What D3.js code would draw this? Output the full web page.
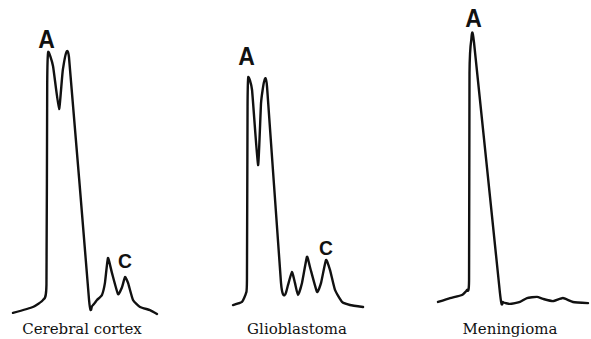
<!DOCTYPE html>
<html>
<head>
<meta charset="utf-8">
<script src="https://cdn.jsdelivr.net/npm/d3@7"></script>
<style>
  html, body { margin: 0; padding: 0; background: #fff; }
  svg { display: block; }
</style>
</head>
<body>
<div id="chart"></div>
<script>
// densitometer traces, position (arbitrary units) vs intensity (0-100)
const panels = ['Cerebral cortex', 'Glioblastoma', 'Meningioma'];

const cortexX = [0, 13.3, 20, 22.3, 22.8, 23.5, 26.7, 30.7, 33.3, 37.3, 50.7, 52.7, 56, 59.3, 61.3, 63.3, 66, 70, 72.7, 74.7, 76.7, 80, 84.7, 91.3, 96];
const cortexY = [0.4, 2.5, 5, 10.4, 82, 93.6, 88.5, 73.2, 87.5, 91.8, 5, 2.9, 5, 6.8, 11.1, 20, 14.6, 7.1, 9.6, 13.2, 11.1, 5, 2.5, 1.4, 0];

const gliomaX = [0, 6, 8.7, 9.3, 9.7, 10.2, 12.7, 16.7, 18.7, 20.7, 22.7, 32, 34.7, 36.7, 39.3, 41.3, 43.3, 46, 49.3, 51.3, 56, 58.7, 62, 64.7, 68, 72.7, 78, 86.7];
const gliomaY = [3.2, 4.3, 7.5, 12.1, 74, 84.6, 80, 53.2, 75.4, 82.9, 81.1, 11.1, 6.8, 10.4, 15, 11.1, 6.8, 11.1, 20.4, 16.8, 7.9, 11.1, 19.3, 15.7, 8.6, 4.3, 3.2, 2.5];

const meningX = [0, 8, 16, 19.3, 20.7, 21, 22.2, 24, 41.3, 43.3, 48, 54.7, 59.3, 66, 70, 76.7, 83.3, 90, 100];
const meningY = [4.3, 5.7, 6.8, 8.6, 12.1, 86, 98, 97, 7.5, 4.3, 3.6, 4.3, 5.7, 6.1, 5.4, 4.6, 5.7, 4.3, 3.9];

// peak letters: panel index, letter, position, value
const markPanel = [0, 0, 1, 1, 2];
const markText = ['A', 'C', 'A', 'C', 'A'];
const markX = [22.3, 74.7, 9, 62, 23.7];
const markY = [95, 16.4, 88.9, 21.1, 102.6];

// title centre, in position units
const titleX = [46, 42.7, 48];

const W = 591, H = 339;
const offsets = [13, 233, 438];

const svg = d3.select('#chart').append('svg')
  .attr('width', W).attr('height', H);

const x = d3.scaleLinear().domain([0, 100]).range([0, 150]);
const y = d3.scaleLinear().domain([0, 100]).range([314, 34]);

const line = d3.line()
  .x(d => x(d[0]))
  .y(d => y(d[1]))
  .curve(d3.curveCardinal.tension(0.55));

const traces = [
  d3.zip(cortexX, cortexY),
  d3.zip(gliomaX, gliomaY),
  d3.zip(meningX, meningY)
];

const g = svg.selectAll('g.panel')
  .data(traces).enter()
  .append('g')
  .attr('class', 'panel')
  .attr('transform', (d, i) => 'translate(' + offsets[i] + ',0)');

g.append('path')
  .attr('d', d => line(d))
  .attr('fill', 'none')
  .attr('stroke', '#111')
  .attr('stroke-width', 2.4)
  .attr('stroke-linejoin', 'round')
  .attr('stroke-linecap', 'round');

// titles under each trace
g.append('text')
  .attr('x', (d, i) => x(titleX[i]))
  .attr('y', 334)
  .attr('text-anchor', 'middle')
  .style('font-family', '"DejaVu Serif", serif')
  .style('font-size', '15px')
  .style('fill', '#111')
  .text((d, i) => panels[i]);

// peak letters
markText.forEach((t, i) => {
  svg.append('text')
    .attr('transform', 'translate(' + (offsets[markPanel[i]] + x(markX[i])) + ',' + y(markY[i]) + ') scale(0.92,1)')
    .attr('text-anchor', 'middle')
    .style('font-family', '"Liberation Sans", Arial, sans-serif')
    .style('font-weight', 'bold')
    .style('font-size', t === 'A' ? '25px' : '21px')
    .style('fill', '#111')
    .text(t);
});
</script>
</body>
</html>
